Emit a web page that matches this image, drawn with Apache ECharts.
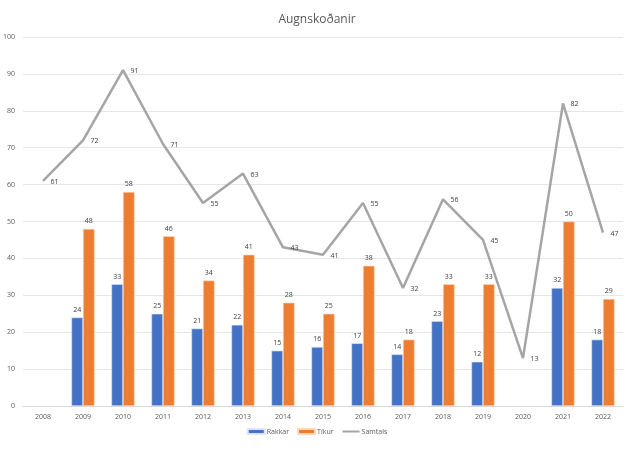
<!DOCTYPE html>
<html><head><meta charset="utf-8">
<script src="https://cdn.jsdelivr.net/npm/echarts@6/dist/echarts.min.js"></script>
<style>html,body{margin:0;padding:0;background:#fff}#c{width:634px;height:451px}</style>
</head><body><div id="c"></div>
<script>
var categories = ['2008','2009','2010','2011','2012','2013','2014','2015','2016','2017','2018','2019','2020','2021','2022'];
var rakkar = [null,24,33,25,21,22,15,16,17,14,23,12,null,32,18];
var tikur = [null,48,58,46,34,41,28,25,38,18,33,33,null,50,29];
var samtals = [61,72,91,71,55,63,43,41,55,32,56,45,13,82,47];
var yTicks = {min:0, max:100, interval:10};

var font = 'Open Sans';
var chart = echarts.init(document.getElementById('c'));
var barLabel = {show:true, position:'top', distance:4, fontSize:7, color:'#404040', fontFamily:font};
chart.setOption({
  animation:false,
  title:{text:'Augnskoðanir', left:'center', top:9, textStyle:{fontSize:12, fontWeight:'normal', color:'#595959', fontFamily:font}},
  legend:{bottom:11, left:'center', itemWidth:17, itemHeight:5, itemGap:8, textStyle:{fontSize:7, color:'#595959', fontFamily:font, padding:[0,0,0,-3]},
    data:[{name:'Rakkar', icon:'rect'},{name:'Tíkur', icon:'rect'},{name:'Samtals'}]},
  grid:{left:20, right:11, top:37, bottom:45, containLabel:false},
  xAxis:{type:'category', data:categories, axisLine:{lineStyle:{color:'#d9d9d9'}}, axisTick:{show:false},
    axisLabel:{fontSize:7, color:'#595959', margin:7, fontFamily:font}},
  yAxis:{type:'value', min:yTicks.min, max:yTicks.max, interval:yTicks.interval,
    axisLine:{show:false}, axisTick:{show:false},
    splitLine:{lineStyle:{color:'#e6e6e6'}},
    axisLabel:{fontSize:7, color:'#595959', margin:8, fontFamily:font}},
  series:[
    {name:'Rakkar', type:'bar', data:rakkar, barWidth:'29%', barGap:'0%',
      itemStyle:{color:'#4472c4', borderColor:'#dfe6f3', borderWidth:0.6}, label:barLabel},
    {name:'Tíkur', type:'bar', data:tikur, barWidth:'29%', barGap:'0%',
      itemStyle:{color:'#ed7d31', borderColor:'#f8d9c4', borderWidth:0.6}, label:barLabel},
    {name:'Samtals', type:'line', data:samtals, symbol:'circle', symbolSize:1, showSymbol:true,
      lineStyle:{color:'#a5a5a5', width:2.5}, itemStyle:{color:'rgba(0,0,0,0)'},
      label:{show:true, position:'right', distance:7, offset:[0,1], fontSize:7, color:'#404040', fontFamily:font}}
  ]
});
</script></body></html>
